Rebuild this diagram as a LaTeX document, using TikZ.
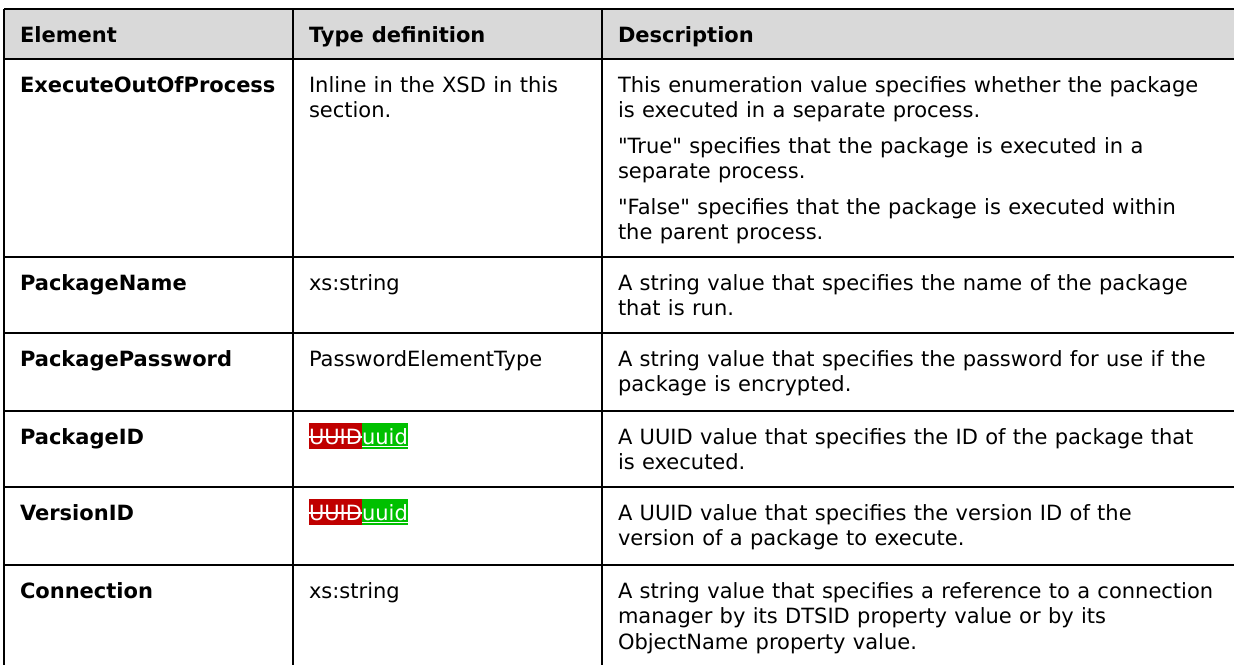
\documentclass[tikz,border=0pt]{standalone}
\usepackage{fontspec}
\setmainfont[WordSpace=1.1,Ligatures=TeXOff]{DejaVu Sans}
\usetikzlibrary{calc,backgrounds}
\definecolor{hdrgray}{HTML}{D9D9D9}
\definecolor{delred}{HTML}{C00000}
\definecolor{insgreen}{HTML}{00C000}
\tikzset{
  txt/.style={anchor=base west, inner sep=0pt, outer sep=0pt, text=black, font=\fontsize{21}{25.5}\selectfont},
  bold/.style={txt, font=\fontsize{21}{25.5}\selectfont\bfseries},
  grid/.style={line width=2pt, draw=black},
  deltxt/.style={txt, text=white},
}
\begin{document}
\begin{tikzpicture}[x=1pt, y=-1pt]
\useasboundingbox (0,0) rectangle (1234,664);
% header fill
\fill[hdrgray] (4,9) rectangle (1237,59);
% header
\node[bold] (hA) at (20,42) {Element};
\node[bold] (hB) at (309,42) {Type definition};
\node[bold] (hC) at (618,42) {Description};
% row 1
\node[bold] (r1a) at (20,92) {ExecuteOutOfProcess};
\node[txt] (r1b1) at (309,92) {Inline in the XSD in this};
\node[txt] (r1b2) at (309,117.5) {section.};
\node[txt] (r1c1) at (618,92) {This enumeration value specifies whether the package};
\node[txt] (r1c2) at (618,117.5) {is executed in a separate process.};
\node[txt] (r1c3) at (618,153) {"True" specifies that the package is executed in a};
\node[txt] (r1c4) at (618,178.5) {separate process.};
\node[txt] (r1c5) at (618,214) {"False" specifies that the package is executed within};
\node[txt] (r1c6) at (618,239.5) {the parent process.};
% row 2
\node[bold] (r2a) at (20,290) {PackageName};
\node[txt] (r2b) at (309,290) {xs:string};
\node[txt] (r2c1) at (618,290) {A string value that specifies the name of the package};
\node[txt] (r2c2) at (618,315.5) {that is run.};
% row 3
\node[bold] (r3a) at (20,366) {PackagePassword};
\node[txt] (r3b) at (309,366) {PasswordElementType};
\node[txt] (r3c1) at (618,366) {A string value that specifies the password for use if the};
\node[txt] (r3c2) at (618,391.5) {package is encrypted.};
% row 4
\node[bold] (r4a) at (20,444) {PackageID};
\node[deltxt] (r4del) at (309,444) {UUID};
\node[deltxt] (r4ins) at (r4del.base east) {uuid};
\node[txt] (r4c1) at (618,444) {A UUID value that specifies the ID of the package that};
\node[txt] (r4c2) at (618,469.5) {is executed.};
% row 5
\node[bold] (r5a) at (20,520) {VersionID};
\node[deltxt] (r5del) at (309,520) {UUID};
\node[deltxt] (r5ins) at (r5del.base east) {uuid};
\node[txt] (r5c1) at (618,520) {A UUID value that specifies the version ID of the};
\node[txt] (r5c2) at (618,545.5) {version of a package to execute.};
% row 6
\node[bold] (r6a) at (20,598) {Connection};
\node[txt] (r6b) at (309,598) {xs:string};
\node[txt] (r6c1) at (618,598) {A string value that specifies a reference to a connection};
\node[txt] (r6c2) at (618,623.5) {manager by its DTSID property value or by its};
\node[txt] (r6c3) at (618,649) {ObjectName property value.};
% revision marks
\begin{scope}[on background layer]
\foreach \r in {r4,r5}{
  \fill[delred] ($(\r del.base west)+(0,-21)$) rectangle ($(\r del.base east)+(0,5)$);
  \fill[insgreen] ($(\r ins.base west)+(0,-21)$) rectangle ($(\r ins.base east)+(0,5)$);
}
\end{scope}
\foreach \r in {r4,r5}{
  \draw[white, line width=1.5pt] ($(\r del.base west)+(0,-7)$) -- ($(\r del.base east)+(0,-7)$);
  \draw[white, line width=1.5pt] ($(\r ins.base west)+(0,2.5)$) -- ($(\r ins.base east)+(0,2.5)$);
}
% grid
\foreach \yy in {9,59,257,333,411,487,565,667}
  \draw[grid] (4,\yy) -- (1237,\yy);
\foreach \xx in {4,293,602,1237}
  \draw[grid] (\xx,9) -- (\xx,667);
\end{tikzpicture}
\end{document}
